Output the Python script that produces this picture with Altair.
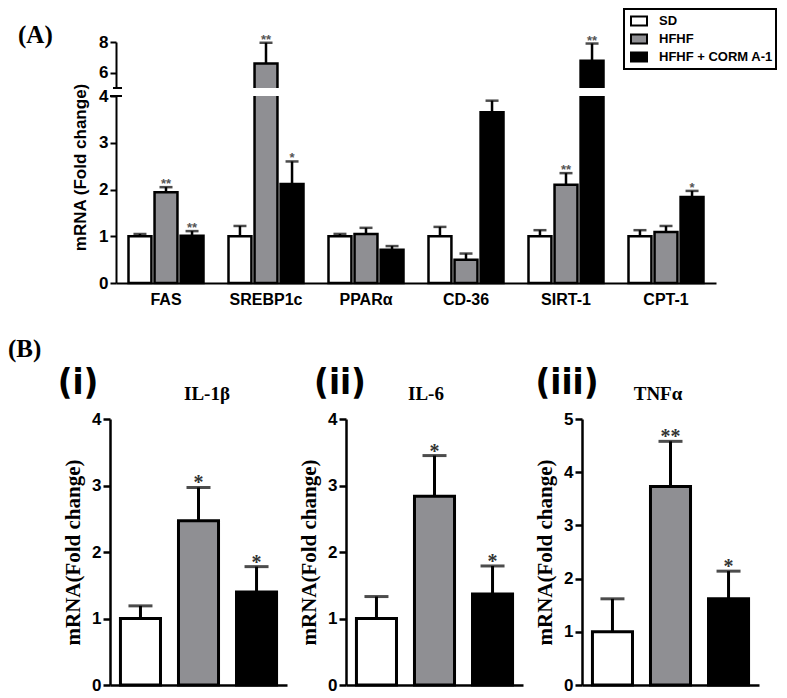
import altair as alt
import pandas as pd

# ---------------- data ----------------
genes = ["FAS", "SREBP1c", "PPARα", "CD-36", "SIRT-1", "CPT-1"]
groups = ["SD", "HFHF", "HFHF + CORM A-1"]

a_sd_mean = [1.00, 1.00, 1.00, 1.00, 1.00, 1.00]
a_sd_top = [1.05, 1.22, 1.05, 1.20, 1.13, 1.13]
a_hfhf_mean = [1.94, 6.60, 1.05, 0.50, 2.10, 1.09]
a_hfhf_top = [2.05, 7.95, 1.18, 0.63, 2.35, 1.22]
a_corm_mean = [1.01, 2.12, 0.71, 3.65, 6.78, 1.84]
a_corm_top = [1.11, 2.60, 0.79, 3.90, 7.90, 1.97]
a_sd_sig = ["", "", "", "", "", ""]
a_hfhf_sig = ["**", "**", "", "", "**", ""]
a_corm_sig = ["**", "*", "", "", "**", "*"]
a_ticks = [0, 1, 2, 3, 4, 6, 8]

b_labels = ["(i)", "(ii)", "(iii)"]
b_titles = ["IL-1β", "IL-6", "TNFα"]
il1b_mean = [1.00, 2.47, 1.40]
il1b_top = [1.19, 2.97, 1.78]
il1b_sig = ["", "*", "*"]
il6_mean = [1.00, 2.84, 1.37]
il6_top = [1.33, 3.45, 1.79]
il6_sig = ["", "*", "*"]
tnf_mean = [1.00, 3.73, 1.62]
tnf_top = [1.62, 4.58, 2.14]
tnf_sig = ["", "**", "*"]
b_ymax = [4, 4, 5]

fill_colors = ["#ffffff", "#8f8f93", "#000000"]
SANS = "Liberation Sans"
SERIF = "Liberation Serif"
NARROW = "Liberation Sans Narrow, DejaVu Sans Condensed, sans-serif"

# ---------------- panel A ----------------
rows = []
for gi, g in enumerate(genes):
    for grp, m, t, s in [
        (groups[0], a_sd_mean, a_sd_top, a_sd_sig),
        (groups[1], a_hfhf_mean, a_hfhf_top, a_hfhf_sig),
        (groups[2], a_corm_mean, a_corm_top, a_corm_sig),
    ]:
        rows.append({"gene": g, "group": grp, "mean": m[gi], "top": t[gi], "sig": s[gi]})
dfA = pd.DataFrame(rows)

fill_scale = alt.Scale(domain=groups, range=fill_colors)
yA_scale = alt.Scale(domain=[0, 4, 5, 8], range=[241, 54, 46, 0])

xA = alt.X(
    "gene:N", sort=genes,
    scale=alt.Scale(range=[6, 606], paddingInner=0.25, paddingOuter=0.125),
    axis=alt.Axis(title=None, labelFont=SANS, labelFontSize=16, labelFontWeight="bold",
                  labelColor="black", labelPadding=8, ticks=False, labelAngle=0,
                  domainColor="black", domainWidth=2),
)
xoffA = alt.XOffset("group:N", sort=groups, scale=alt.Scale(paddingInner=0.12, paddingOuter=0))

baseA = alt.Chart(dfA)
barsA = baseA.mark_bar(stroke="black", strokeWidth=2.5).encode(
    x=xA, xOffset=xoffA,
    y=alt.Y("mean:Q", scale=yA_scale,
            axis=alt.Axis(values=a_ticks, title="mRNA (Fold change)", titleFont=SANS,
                          titleFontSize=17, titleFontWeight="bold", titleColor="black",
                          titleAngle=270, titleAlign="center", titleBaseline="middle",
                          titleX=-36, titleY=125, offset=-6,
                          labelFont=SANS, labelFontSize=17, labelFontWeight="bold",
                          labelColor="black", labelPadding=2, tickSize=6, tickWidth=2,
                          tickColor="black", domainColor="black", domainWidth=2, grid=False)),
    fill=alt.Fill("group:N", scale=fill_scale,
                  legend=alt.Legend(title=None, orient="none", legendX=514, legendY=-33,
                                    direction="vertical",
                                    symbolType="M-1,-0.55H1V0.55H-1Z", symbolSize=256,
                                    symbolStrokeColor="black", symbolStrokeWidth=2,
                                    symbolOffset=3,
                                    labelFont=SANS, labelFontSize=13, labelFontWeight="bold",
                                    labelColor="black", labelOffset=11, rowPadding=0,
                                    padding=3, strokeColor="black")),
)
errA = baseA.mark_rule(color="black", strokeWidth=2.5).encode(
    x=xA, xOffset=xoffA, y="mean:Q", y2="top:Q")
capA = baseA.mark_tick(color="black", thickness=2.5, size=13).encode(
    x=xA, xOffset=xoffA, y="top:Q")
starsA = baseA.mark_text(font=SANS, fontSize=13, fontWeight="bold", color="#555555",
                         baseline="alphabetic", dy=1).encode(
    x=xA, xOffset=xoffA, y="top:Q", text="sig:N")

one = pd.DataFrame({"k": [0]})
gapA = alt.Chart(one).mark_rect(color="white").encode(
    y=alt.Y(datum=4, type="quantitative"), y2=alt.Y2(datum=5),
    x=alt.value(4), x2=alt.value(608))
brk4 = alt.Chart(one).mark_rule(color="black", strokeWidth=2).encode(
    y=alt.Y(datum=4, type="quantitative"), x=alt.value(0), x2=alt.value(12))
brk5 = alt.Chart(one).mark_rule(color="black", strokeWidth=2).encode(
    y=alt.Y(datum=5, type="quantitative"), x=alt.value(3), x2=alt.value(12))
labA = alt.Chart(pd.DataFrame({"t": ["(A)"]})).mark_text(
    font=SERIF, fontSize=25, fontWeight="bold", color="black", align="left",
    baseline="middle").encode(text="t:N", x=alt.value(-92), y=alt.value(-7))
labB = alt.Chart(pd.DataFrame({"t": ["(B)"]})).mark_text(
    font=SERIF, fontSize=25, fontWeight="bold", color="black", align="left",
    baseline="middle").encode(text="t:N", x=alt.value(-102), y=alt.value(-70))

panelA = alt.layer(barsA, errA, capA, gapA, brk4, brk5, starsA, labA).properties(
    width=606, height=241)


# ---------------- panel B ----------------
def b_panel(i, means, tops, sigs, ymax, lab_x, title_x, extra=None):
    df = pd.DataFrame({"group": groups, "mean": means, "top": tops, "sig": sigs})
    x = alt.X("group:N", sort=groups,
              scale=alt.Scale(paddingInner=0.31, paddingOuter=0.18),
              axis=alt.Axis(title=None, labels=False, ticks=False,
                            domainColor="black", domainWidth=2.5))
    y_scale = alt.Scale(domain=[0, ymax], nice=False)
    base = alt.Chart(df)
    bars = base.mark_bar(stroke="black", strokeWidth=3).encode(
        x=x,
        y=alt.Y("mean:Q", scale=y_scale,
                axis=alt.Axis(values=list(range(ymax + 1)), format="d",
                              title="mRNA(Fold change)",
                              titleFont=SERIF, titleFontSize=21, titleFontWeight="bold",
                              titleColor="black", titleAngle=270, titleAlign="center",
                              titleBaseline="middle", titleX=-37, titleY=133,
                              labelFont=SANS, labelFontSize=17, labelFontWeight="bold",
                              labelColor="black", labelPadding=2, tickSize=7,
                              tickWidth=2.5, tickColor="black", domainColor="black",
                              domainWidth=2.5, grid=False)),
        fill=alt.Fill("group:N", scale=fill_scale, legend=None),
    )
    err = base.mark_rule(color="black", strokeWidth=3).encode(x=x, y="mean:Q", y2="top:Q")
    cap = base.mark_tick(color="black", thickness=3, size=24).encode(x=x, y="top:Q")
    stars = base.mark_text(font=SERIF, fontSize=20, fontWeight="bold", color="#333333",
                           baseline="alphabetic", dy=2).encode(x=x, y="top:Q", text="sig:N")
    plab = alt.Chart(pd.DataFrame({"t": [b_labels[i]]})).mark_text(
        font=NARROW, fontSize=36, fontWeight="bold", color="black", align="center",
        baseline="middle").encode(text="t:N", x=alt.value(lab_x), y=alt.value(-36))
    gtitle = alt.Chart(pd.DataFrame({"t": [b_titles[i]]})).mark_text(
        font=SERIF, fontSize=19, fontWeight="bold", color="black", align="center",
        baseline="middle").encode(text="t:N", x=alt.value(title_x), y=alt.value(-25))
    layers = [bars, err, cap, stars, plab, gtitle]
    if extra is not None:
        layers.append(extra)
    return alt.layer(*layers).properties(width=177, height=266)


p1 = b_panel(0, il1b_mean, il1b_top, il1b_sig, b_ymax[0], -32, 97, extra=labB)
p2 = b_panel(1, il6_mean, il6_top, il6_sig, b_ymax[1], -6, 80)
p3 = b_panel(2, tnf_mean, tnf_top, tnf_sig, b_ymax[2], -15, 76)

panelB = alt.hconcat(p1, p2, p3, spacing=59, bounds="flush")

chart = alt.vconcat(panelA, panelB, spacing=136, bounds="flush").properties(
    padding=0, background="white"
).configure_view(stroke=None).configure_legend(strokeWidth=2)

chart.save("out.html", embed_options={"renderer": "svg", "actions": False})
